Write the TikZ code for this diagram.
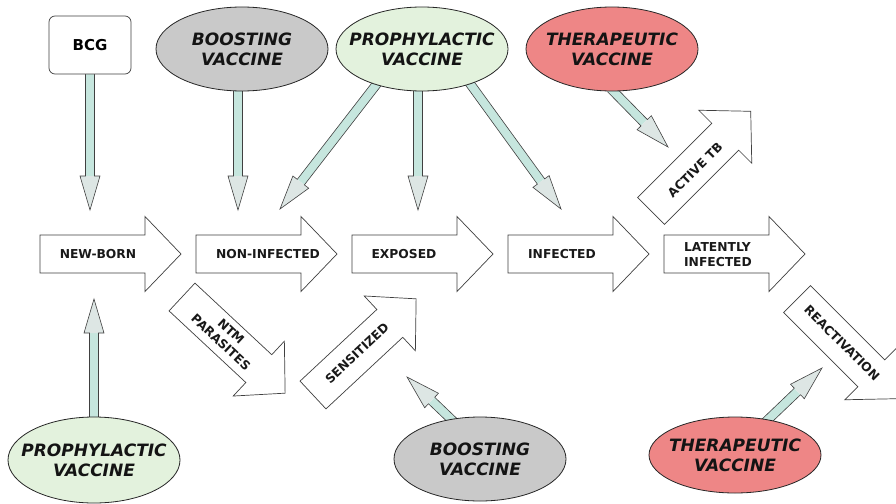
\documentclass[tikz,border=0pt]{standalone}
\usepackage{fontspec}
\setmainfont{DejaVu Sans}[BoldFont={DejaVu Sans Bold},ItalicFont={DejaVu Sans Oblique},BoldItalicFont={DejaVu Sans Bold Oblique}]
\newfontfamily\stagefont{DejaVu Sans Bold}
\usetikzlibrary{shapes.geometric,calc}
\definecolor{tealfill}{HTML}{C6E6DE}
\definecolor{headfill}{HTML}{DDE6E4}
\definecolor{grayfill}{HTML}{C9C9C9}
\definecolor{greenfill}{HTML}{E3F2DD}
\definecolor{redfill}{HTML}{EE8686}
\definecolor{edgecol}{HTML}{404040}
\pgfdeclarelayer{back}
\pgfdeclarelayer{bg}
\pgfsetlayers{back,bg,main}
\tikzset{
  stagetext/.style={font=\stagefont\fontsize{12.3}{15}\selectfont, inner sep=0pt, align=center, text=black!90},
  vaccine/.style={ellipse, draw=black!85, line width=0.8pt, minimum width=172pt, minimum height=84pt, inner sep=0pt},
  vactext/.style={inner sep=0pt, align=center, font=\fontsize{17}{20}\selectfont\bfseries\itshape, text=black!92},
  bcgbox/.style={draw=edgecol, fill=white, rounded corners=6pt, line width=0.7pt, minimum width=82pt, minimum height=58pt, font=\fontsize{15}{18}\selectfont\bfseries},
  blockarrow/.style={draw=edgecol, fill=white, line width=0.7pt, line join=miter},
  vacfill/.style={fill=tealfill},
  vachead/.style={fill=headfill},
  vacline/.style={draw=edgecol, line width=0.6pt, line join=miter},
}
\newcommand\stagearrow[2]{%
  \draw[blockarrow, shift={#1}, rotate=#2] (0,-19) -- (105,-19) -- (105,-37.5) -- (141,0) -- (105,37.5) -- (105,19) -- (0,19) -- cycle;}
\newcommand\vac[2]{%
  \coordinate (vs) at ($(#1)!-4pt!(#2)$);
  \coordinate (vh) at ($(#2)!34pt!(vs)$);
  \begin{pgfonlayer}{bg}
  \path[vacfill] ($(vs)!4.5pt!90:(#2)$) -- ($(vh)!4.5pt!90:(#2)$) -- ($(vh)!4.5pt!-90:(#2)$) -- ($(vs)!4.5pt!-90:(#2)$) -- cycle;
  \path[vachead] ($(vh)!10pt!90:(#2)$) -- (#2) -- ($(vh)!10pt!-90:(#2)$) -- cycle;
  \path[vacline] ($(vs)!4.5pt!90:(#2)$) -- ($(vh)!4.5pt!90:(#2)$) -- ($(vh)!10pt!90:(#2)$) -- (#2) -- ($(vh)!10pt!-90:(#2)$) -- ($(vh)!4.5pt!-90:(#2)$) -- ($(vs)!4.5pt!-90:(#2)$);
  \end{pgfonlayer}}
\begin{document}
\begin{tikzpicture}[x=1pt,y=-1pt]
\begin{pgfonlayer}{back}
\fill[white] (0,0) rectangle (896,503);
\end{pgfonlayer}
\useasboundingbox (0,0) rectangle (896,503);
\begin{scope}
\clip (0,0) rectangle (896,503);
% stage arrows
\stagearrow{(40,254)}{0}
\stagearrow{(196,254)}{0}
\stagearrow{(352,254)}{0}
\stagearrow{(508,254)}{0}
\stagearrow{(664,254)}{0}
\stagearrow{(651,211)}{45}
\stagearrow{(182,297)}{-43}
\stagearrow{(313,395)}{43}
\stagearrow{(797,299)}{-45}
\end{scope}
% stage labels
\node[stagetext] (newborn) at (98,254) {NEW-BORN};
\node[stagetext] (noninf) at (268,254) {NON-INFECTED};
\node[stagetext] (exposed) at (404,254) {EXPOSED};
\node[stagetext] (infected) at (562,254) {INFECTED};
\node[stagetext, align=left] (latent) at (718,254.5) {LATENTLY\\INFECTED};
\node[stagetext, rotate=45] (activetb) at (695,170) {ACTIVE TB};
\node[stagetext, rotate=-43] (ntm) at (226,337) {NTM\\PARASITES};
\node[stagetext, rotate=43] (sens) at (357,353) {SENSITIZED};
\node[stagetext, rotate=-45] (react) at (842,343) {REACTIVATION};
% vaccines
\node[bcgbox] (bcg) at (90,45) {BCG};
\node[vaccine, fill=grayfill] (boostT) at (242,49) {};
\node[vactext] (boostT-t) at (boostT) {BOOSTING\\VACCINE};
\node[vaccine, fill=greenfill] (prophT) at (422,49) {};
\node[vactext] (prophT-t) at (prophT) {PROPHYLACTIC\\VACCINE};
\node[vaccine, fill=redfill] (theraT) at (612,49) {};
\node[vactext] (theraT-t) at (theraT) {THERAPEUTIC\\VACCINE};
\node[vaccine, fill=greenfill, minimum height=86pt] (prophB) at (94,460) {};
\node[vactext] (prophB-t) at (prophB) {PROPHYLACTIC\\VACCINE};
\node[vaccine, fill=grayfill] (boostB) at (480,459) {};
\node[vactext] (boostB-t) at (boostB) {BOOSTING\\VACCINE};
\node[vaccine, fill=redfill, minimum height=76pt] (theraB) at (735,455) {};
\node[vactext] (theraB-t) at (theraB) {THERAPEUTIC\\VACCINE};
% arrow tips
\coordinate (t-bcg) at (90,210);
\coordinate (t-boost) at (238,210);
\coordinate (t-prl) at (280,209);
\coordinate (t-prc) at (418,210);
\coordinate (t-prr) at (561,209);
\coordinate (t-thera) at (668,147);
\coordinate (t-prb) at (94,299);
\coordinate (t-boostb) at (407,377);
\coordinate (t-therab) at (822,368);
% arrow starts
\coordinate (s-bcg) at (bcg.south);
\coordinate (s-boost) at (t-boost |- boostT.south);
\coordinate (s-prc) at (t-prc |- prophT.south);
\coordinate (s-prl) at (prophT.-142);
\coordinate (s-prr) at (prophT.-36);
\coordinate (s-thera) at (theraT.-88);
\coordinate (s-prb) at (prophB.north);
\coordinate (s-boostb) at (boostB.126);
\coordinate (s-therab) at (theraB.47);
\vac{s-bcg}{t-bcg}
\vac{s-boost}{t-boost}
\vac{s-prc}{t-prc}
\vac{s-prl}{t-prl}
\vac{s-prr}{t-prr}
\vac{s-thera}{t-thera}
\vac{s-prb}{t-prb}
\vac{s-boostb}{t-boostb}
\vac{s-therab}{t-therab}
\end{tikzpicture}
\end{document}
